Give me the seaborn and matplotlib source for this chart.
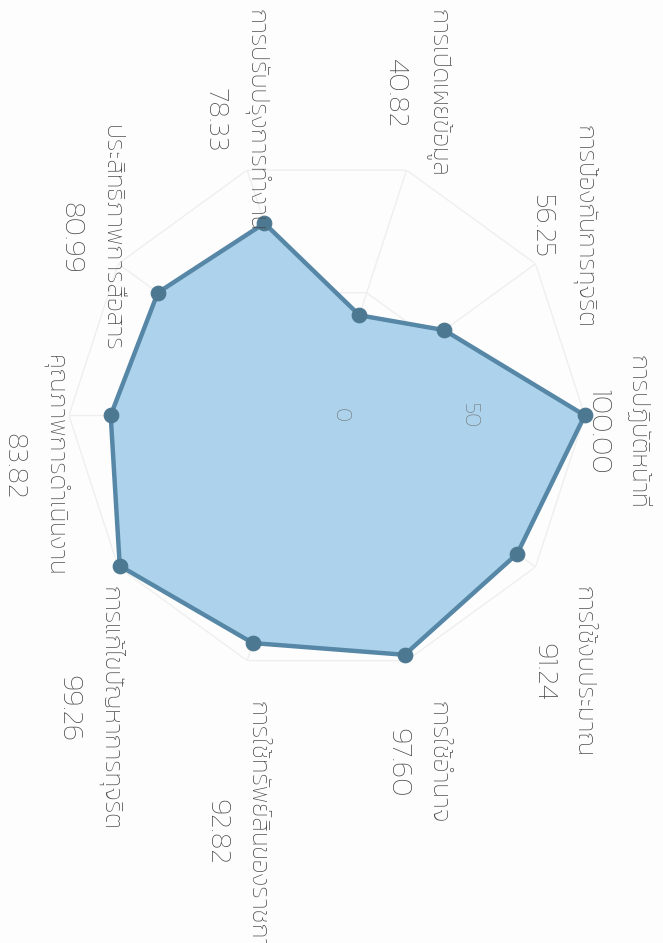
import numpy as np
import pandas as pd
import matplotlib
matplotlib.use('Agg')
import matplotlib.pyplot as plt
import seaborn as sns

sns.set_theme(style='white')
THAI_FONT = ['Kanit', 'Prompt', 'Noto Sans Thai', 'Athiti', 'DejaVu Sans']
plt.rcParams['font.family'] = THAI_FONT

# ITA scores, listed clockwise from the first axis
categories = [
    'การปฏิบัติหน้าที่',
    'การใช้งบประมาณ',
    'การใช้อำนาจ',
    'การใช้ทรัพย์สินของราชการ',
    'การแก้ไขปัญหาการทุจริต',
    'คุณภาพการดำเนินงาน',
    'ประสิทธิภาพการสื่อสาร',
    'การปรับปรุงการทำงาน',
    'การเปิดเผยข้อมูล',
    'การป้องกันการทุจริต',
]
scores = [100.00, 91.24, 97.60, 92.82, 99.26, 83.82, 80.99, 78.33, 40.82, 56.25]
ticks = [0, 50, 100]
tick_labels = ['0', '50', '']

FILL = '#a9d1ec'
EDGE = '#5787a6'
DOT = '#4d7891'
TEXT = '#454545'
GRID = '#efefef'

n = len(categories)
angles = np.arange(n) * 2 * np.pi / n
# close the loop at 2*pi so seaborn does not merge it with the first point
df = pd.DataFrame({'angle': np.append(angles, 2 * np.pi),
                   'score': scores + scores[:1]})

fig = plt.figure(figsize=(6.63, 9.43), dpi=100, facecolor='#fdfdfd')
ax = fig.add_axes([0.104, 0.286, 0.778, 0.547], projection='polar')
ax.set_facecolor('none')
ax.set_theta_zero_location('E')
ax.set_theta_direction(-1)
ax.set_ylim(0, 100)
ax.grid(False)
ax.spines['polar'].set_visible(False)
ax.set_xticks([])
ax.set_yticks([])

# polygon grid + spokes
for t in ticks[1:]:
    ax.plot(np.append(angles, angles[0]), [t] * (n + 1), color=GRID, lw=1, zorder=0)
for a in angles:
    ax.plot([a, a], [0, 100], color=GRID, lw=1, zorder=0)

ax.fill(df['angle'], df['score'], color=FILL, alpha=0.95, zorder=1, clip_on=False)
sns.lineplot(data=df, x='angle', y='score', sort=False, estimator=None, color=EDGE,
             lw=3.2, solid_joinstyle='round', ax=ax, zorder=2, clip_on=False)
sns.scatterplot(data=df.iloc[:-1], x='angle', y='score', color=DOT, s=110, edgecolor=DOT,
                ax=ax, zorder=3, clip_on=False)
ax.set_xlabel('')
ax.set_ylabel('')

for t, lab in zip(ticks, tick_labels):
    if lab:
        ax.text(0, t + 5, lab, rotation=-90, ha='center', va='center', fontsize=16,
                color='#707070', fontweight='light', zorder=4)

# axis labels: text runs top-to-bottom, each block hangs from a curve around the chart
for a, name, v in zip(angles, categories, scores):
    s = np.sin(a)
    x_px = 20 + 292 * np.cos(a)
    y_px = -60 + (440 - 80 * abs(s)) * s
    name_txt = ax.text(0.5 + x_px / 516, 0.5 - y_px / 516, name, transform=ax.transAxes,
                       rotation=-90, ha='center', va='top', fontsize=18, color=TEXT,
                       fontweight='light', clip_on=False)
    ax.annotate(f'{v:.2f}', xy=(0, 0.5), xycoords=name_txt, xytext=(-16, 0),
                textcoords='offset pixels', rotation=-90, ha='right', va='center',
                fontsize=21, color=TEXT, fontweight='light', annotation_clip=False)

fig.savefig('out.png', dpi=100, facecolor=fig.get_facecolor())
